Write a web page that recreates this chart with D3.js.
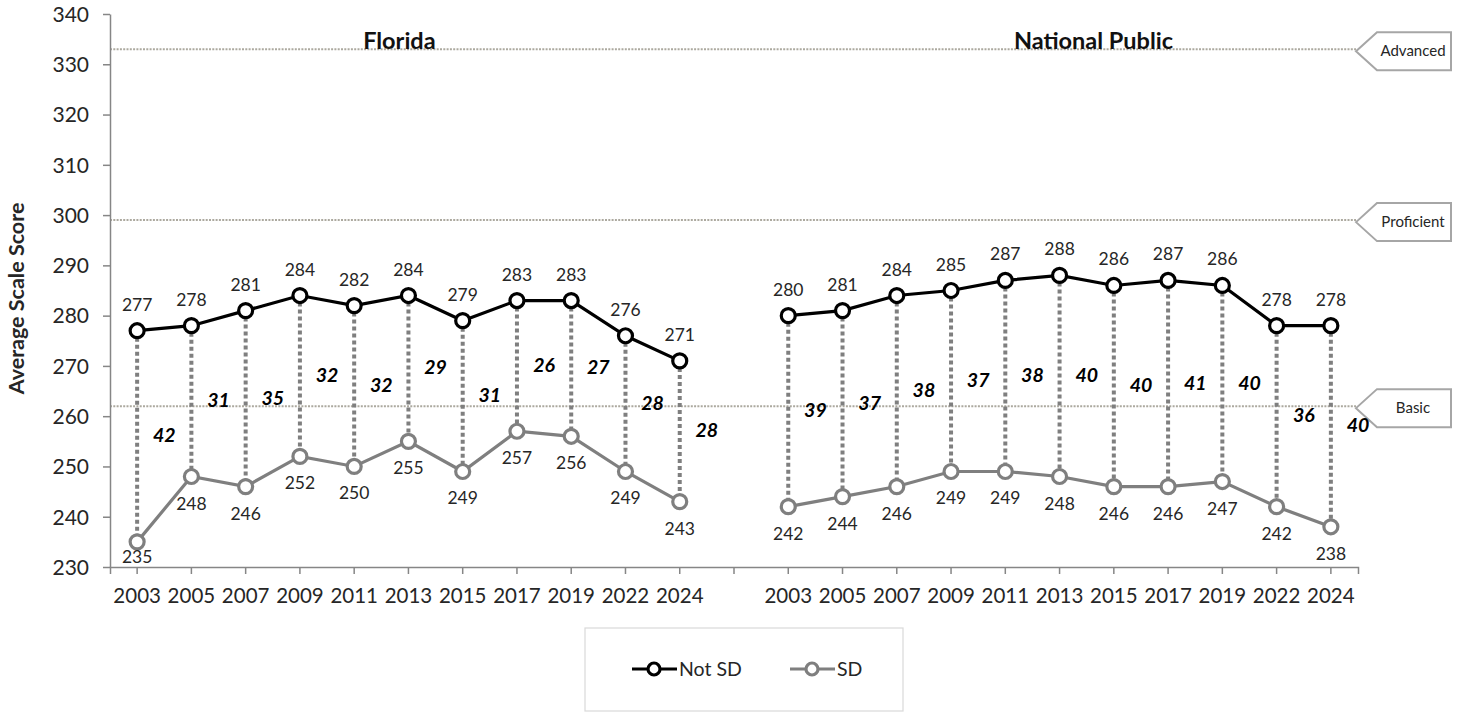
<!DOCTYPE html>
<html>
<head>
<meta charset="utf-8">
<script src="https://cdn.jsdelivr.net/npm/d3@7"></script>
<style>
  html, body { margin: 0; padding: 0; background: #fff; }
  svg { display: block; font-family: Lato, "Liberation Sans", sans-serif; }
</style>
</head>
<body>
<svg id="chart" width="1463" height="713"></svg>
<script>
// ---- data ----
const years = ["2003","2005","2007","2009","2011","2013","2015","2017","2019","2022","2024"];
const floridaNotSD = [277,278,281,284,282,284,279,283,283,276,271];
const floridaSD    = [235,248,246,252,250,255,249,257,256,249,243];
const floridaGap   = [42,31,35,32,32,29,31,26,27,28,28];
const nationalNotSD = [280,281,284,285,287,288,286,287,286,278,278];
const nationalSD    = [242,244,246,249,249,248,246,246,247,242,238];
const nationalGap   = [39,37,38,37,38,40,40,41,40,36,40];
const groups = ["Florida","National Public"];
const levels = [{name:"Advanced", value:333},{name:"Proficient", value:299},{name:"Basic", value:262}];
const yTicks = [230,240,250,260,270,280,290,300,310,320,330,340];
const seriesNames = ["Not SD","SD"];

// ---- layout ----
const svg = d3.select("#chart");
const L = 110, R = 1358, T = 14, B = 567;
const textCol = "#262626", axisCol = "#868686";
const colNot = "#000000", colSD = "#7f7f7f";

const keys = [...years.map(y=>"FL-"+y), "gap", ...years.map(y=>"NP-"+y)];
const x = d3.scaleBand().domain(keys).range([L, R]).paddingInner(0).paddingOuter(0);
const cx = k => x(k) + x.bandwidth()/2;
const y = d3.scaleLinear().domain([230,340]).range([B, T]);

const data = [];
years.forEach((yr,i)=>{
  data.push({key:"FL-"+yr, hi:floridaNotSD[i], lo:floridaSD[i], gap:floridaGap[i]});
});
years.forEach((yr,i)=>{
  data.push({key:"NP-"+yr, hi:nationalNotSD[i], lo:nationalSD[i], gap:nationalGap[i]});
});
const fl = data.slice(0,11), np = data.slice(11);

// ---- level reference lines ----
levels.forEach(lv=>{
  svg.append("line").attr("x1", L).attr("x2", R-2)
    .attr("y1", y(lv.value)).attr("y2", y(lv.value))
    .attr("stroke", "#aca99f").attr("stroke-width", 2).attr("stroke-dasharray", "2,1.3");
  const cy = y(lv.value) + 2;
  const h = 38, tip = R - 2, sh = R + 19, rt = 1451;
  svg.append("path")
    .attr("d", `M${tip},${cy} L${sh},${cy-h/2} L${rt},${cy-h/2} L${rt},${cy+h/2} L${sh},${cy+h/2} Z`)
    .attr("fill", "#fff").attr("stroke", "#a6a6a6").attr("stroke-width", 2);
  svg.append("text").attr("x", (sh+rt)/2 - 1).attr("y", cy + 5)
    .attr("text-anchor","middle").attr("font-size", 15).attr("fill", textCol).text(lv.name);
});

// ---- axes ----
const yAxis = d3.axisLeft(y).tickValues(yTicks).tickSize(7).tickSizeOuter(0).tickPadding(14);
const gy = svg.append("g").attr("transform", `translate(${L},0)`).call(yAxis);
gy.select(".domain").attr("stroke", axisCol).attr("stroke-width", 1.5);
gy.selectAll(".tick line").attr("stroke", axisCol).attr("stroke-width", 1.5);
gy.selectAll(".tick text").attr("font-size", 21).attr("fill", textCol).attr("font-family", "Lato, sans-serif").attr("dy", "0.35em");

const xAxis = d3.axisBottom(x).tickSize(7).tickSizeOuter(7).tickPadding(14)
  .tickFormat(k => k === "gap" ? "" : k.slice(3));
const gx = svg.append("g").attr("transform", `translate(0,${B})`).call(xAxis);
gx.select(".domain").attr("stroke", axisCol).attr("stroke-width", 1.5);
gx.selectAll(".tick line").attr("stroke", axisCol).attr("stroke-width", 1.5);
gx.selectAll(".tick text").attr("font-size", 20.5).attr("fill", textCol).attr("font-family", "Lato, sans-serif");

// y axis title
svg.append("text").attr("transform", `translate(24,${(T+B)/2+8}) rotate(-90)`)
  .attr("text-anchor","middle").attr("font-size", 21.5).attr("font-weight","bold")
  .attr("fill", textCol).text("Average Scale Score");

// group titles
svg.append("text").attr("x", cx("FL-2013") - x.bandwidth()/6).attr("y", 49).attr("text-anchor","middle")
  .attr("font-size", 23.5).attr("font-weight","bold").attr("fill","#111").text(groups[0]);
svg.append("text").attr("x", (cx("NP-2013")+cx("NP-2015"))/2 + x.bandwidth()/8).attr("y", 49).attr("text-anchor","middle")
  .attr("font-size", 23.5).attr("font-weight","bold").attr("fill","#111").text(groups[1]);

// ---- drop lines ----
svg.append("g").selectAll("line").data(data).join("line")
  .attr("x1", d=>cx(d.key)).attr("x2", d=>cx(d.key))
  .attr("y1", d=>y(d.hi)).attr("y2", d=>y(d.lo))
  .attr("stroke", "#7f7f7f").attr("stroke-width", 4).attr("stroke-dasharray", "4,3");

// ---- series lines ----
const lineHi = d3.line().x(d=>cx(d.key)).y(d=>y(d.hi));
const lineLo = d3.line().x(d=>cx(d.key)).y(d=>y(d.lo));
[fl, np].forEach(g=>{
  svg.append("path").datum(g).attr("d", lineLo).attr("fill","none").attr("stroke", colSD).attr("stroke-width", 3.2);
  svg.append("path").datum(g).attr("d", lineHi).attr("fill","none").attr("stroke", colNot).attr("stroke-width", 3.2);
});

// ---- markers ----
svg.append("g").selectAll("circle").data(data).join("circle")
  .attr("cx", d=>cx(d.key)).attr("cy", d=>y(d.lo)).attr("r", 7)
  .attr("fill","#fff").attr("stroke", colSD).attr("stroke-width", 3.2);
svg.append("g").selectAll("circle").data(data).join("circle")
  .attr("cx", d=>cx(d.key)).attr("cy", d=>y(d.hi)).attr("r", 7)
  .attr("fill","#fff").attr("stroke", colNot).attr("stroke-width", 3.2);

// ---- data labels ----
svg.append("g").selectAll("text").data(data).join("text")
  .attr("x", d=>cx(d.key)).attr("y", d=>y(d.hi) - 20)
  .attr("text-anchor","middle").attr("font-size", 17.5).attr("fill", textCol)
  .text(d=>d.hi);
svg.append("g").selectAll("text").data(data).join("text")
  .attr("x", d=>cx(d.key)).attr("y", d=>Math.min(y(d.lo) + 33, B - 4))
  .attr("text-anchor","middle").attr("font-size", 17.5).attr("fill", textCol)
  .text(d=>d.lo);

// gap labels
svg.append("g").selectAll("text").data(data).join("text")
  .attr("x", d=>cx(d.key) + x.bandwidth()/2).attr("y", d=>y((d.hi+d.lo)/2) + 6)
  .attr("text-anchor","middle").attr("font-size", 19.5).attr("font-weight","bold")
  .attr("font-style","italic").attr("fill","#000")
  .text(d=>d.gap);

// ---- legend ----
const lg = svg.append("g");
lg.append("rect").attr("x", 585).attr("y", 628).attr("width", 318).attr("height", 83)
  .attr("fill","#fff").attr("stroke","#d9d9d9").attr("stroke-width", 1.2);
const legItems = [{name:seriesNames[0], col:colNot, x0:632}, {name:seriesNames[1], col:colSD, x0:790}];
legItems.forEach(it=>{
  const ly = 669;
  lg.append("line").attr("x1", it.x0).attr("x2", it.x0+45).attr("y1", ly).attr("y2", ly)
    .attr("stroke", it.col).attr("stroke-width", 3.2);
  lg.append("circle").attr("cx", it.x0+22).attr("cy", ly).attr("r", 6)
    .attr("fill","#fff").attr("stroke", it.col).attr("stroke-width", 3.2);
  lg.append("text").attr("x", it.x0+47).attr("y", ly+7).attr("font-size", 19.5)
    .attr("fill", textCol).text(it.name);
});
</script>
</body>
</html>
